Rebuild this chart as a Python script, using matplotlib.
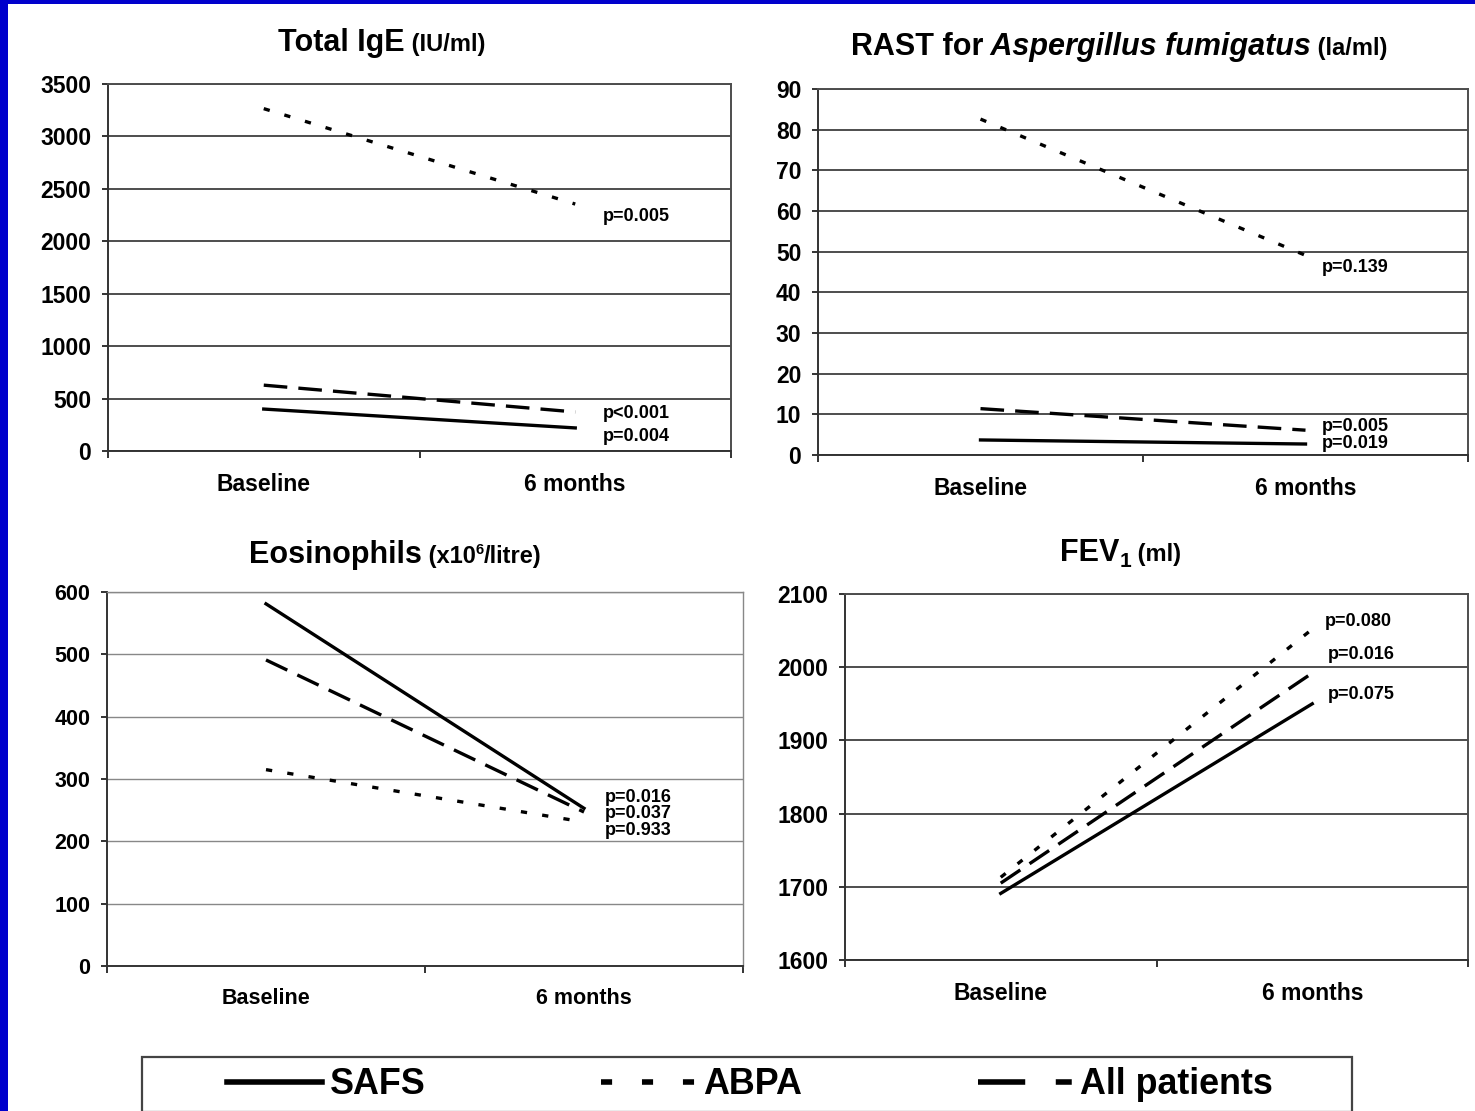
import numpy as np
import matplotlib
matplotlib.use('Agg')
import matplotlib.pyplot as plt
from matplotlib.lines import Line2D
from matplotlib.patches import Rectangle

plt.rcParams['font.family'] = ['Liberation Sans', 'DejaVu Sans']
plt.rcParams['lines.scale_dashes'] = False

# ---- data ----
categories = ['Baseline', '6 months']

ige_safs = [400, 220]
ige_abpa = [3265, 2355]
ige_all = [628, 372]
ige_p = ['p=0.005', 'p<0.001', 'p=0.004']

rast_safs = [3.7, 2.7]
rast_abpa = [82.6, 49.1]
rast_all = [11.4, 6.1]
rast_p = ['p=0.139', 'p=0.005', 'p=0.019']

eos_safs = [581, 253]
eos_abpa = [315, 231]
eos_all = [491, 247]
eos_p = ['p=0.016', 'p=0.037', 'p=0.933']

fev_safs = [1691, 1950]
fev_abpa = [1713, 2052]
fev_all = [1705, 1992]
fev_p = ['p=0.080', 'p=0.016', 'p=0.075']

# ---- figure ----
W, H = 1475, 1111
fig = plt.figure(figsize=(W / 100, H / 100), dpi=100)
fig.patch.set_facecolor('white')

# blue slide border
fig.add_artist(Rectangle((0, 0), 8 / W, 1, transform=fig.transFigure, color='#0000cc', lw=0))
fig.add_artist(Rectangle((0, 1 - 4 / H), 1, 4 / H, transform=fig.transFigure, color='#0000cc', lw=0))

DOT = (0, (4.5, 11))
DASH = (0, (17, 8))
LW = 2.4


def px_axes(l, r, t, b):
    return fig.add_axes([l / W, 1 - b / H, (r - l) / W, (b - t) / H])


def setup(ax, ylim, step, tick_fs, cat_fs, grid_lw, grid_color):
    ax.set_xlim(0, 2)
    ax.set_ylim(*ylim)
    ax.set_yticks(np.arange(ylim[0], ylim[1] + step / 2, step))
    ax.set_xticks([0, 1, 2])
    ax.set_xticklabels([])
    ax.set_xticks([0.5, 1.5], minor=True)
    ax.set_xticklabels(categories, minor=True, fontsize=cat_fs, fontweight='bold')
    ax.tick_params(axis='x', which='minor', length=0, pad=16)
    ax.tick_params(axis='x', which='major', length=5, width=1.4, color='#333333')
    ax.tick_params(axis='y', length=4, width=1.4, color='#333333', pad=8, labelsize=tick_fs)
    for lab in ax.get_yticklabels():
        lab.set_fontweight('bold')
    ax.yaxis.grid(True, color=grid_color, lw=grid_lw)
    ax.set_axisbelow(True)
    for side in ['top', 'right']:
        ax.spines[side].set_color(grid_color)
        ax.spines[side].set_linewidth(grid_lw)
    for side in ['left', 'bottom']:
        ax.spines[side].set_color('#333333')
        ax.spines[side].set_linewidth(1.4)


def draw_series(ax, safs, abpa, allp):
    x = [0.5, 1.5]
    ax.plot(x, abpa, color='black', lw=LW, linestyle=DOT)
    ax.plot(x, allp, color='black', lw=LW, linestyle=DASH)
    ax.plot(x, safs, color='black', lw=LW, linestyle='-')


def p_labels(ax, xs, ys, labels, fs=13):
    for xx, yy, s in zip(xs, ys, labels):
        ax.text(xx, yy, s, fontsize=fs, fontweight='bold', va='center', ha='left')


# Total IgE
ax1 = px_axes(108, 731, 84, 451)
setup(ax1, (0, 3500), 500, 16.5, 16.5, 1.4, '#4d4d4d')
draw_series(ax1, ige_safs, ige_abpa, ige_all)
p_labels(ax1, [1.589] * 3, [2232, 353, 134], ige_p)

# RAST
ax2 = px_axes(818, 1468, 89, 455)
setup(ax2, (0, 90), 10, 16.5, 16.5, 1.4, '#4d4d4d')
draw_series(ax2, rast_safs, rast_abpa, rast_all)
p_labels(ax2, [1.551] * 3, [46, 7.1, 2.95], rast_p)

# Eosinophils
ax3 = px_axes(107, 743, 592, 966)
setup(ax3, (0, 600), 100, 15.5, 15.5, 1.0, '#888888')
draw_series(ax3, eos_safs, eos_abpa, eos_all)
p_labels(ax3, [1.566] * 3, [271, 244, 217], eos_p)

# FEV1
ax4 = px_axes(845, 1468, 594, 960)
setup(ax4, (1600, 2100), 100, 16.5, 16.5, 1.4, '#4d4d4d')
draw_series(ax4, fev_safs, fev_abpa, fev_all)
p_labels(ax4, [1.541, 1.551, 1.551], [2063, 2017, 1963], fev_p)

# ---- titles built from pieces of different size/style ----
renderer = fig.canvas.get_renderer()


def rich_title(x0, y0, parts):
    x = x0
    for s, size, style, dy in parts:
        t = fig.text(x / W, 1 - (y0 + dy) / H, s, fontsize=size, fontweight='bold',
                     fontstyle=style, va='baseline', ha='left')
        x = t.get_window_extent(renderer).x1


rich_title(278, 51, [('Total IgE', 22, 'normal', 0), (' (IU/ml)', 17, 'normal', 0)])
rich_title(851, 55, [('RAST for', 22, 'normal', 0), (' Aspergillus fumigatus', 22, 'italic', 0),
                     (' (la/ml)', 17, 'normal', 0)])
rich_title(249, 563, [('Eosinophils', 22, 'normal', 0), (' (x10', 17, 'normal', 0),
                      ('6', 10.5, 'normal', -9), ('/litre)', 17, 'normal', 0)])
rich_title(1060, 561, [('FEV', 22, 'normal', 0), ('1', 15, 'normal', 6), (' (ml)', 17, 'normal', 0)])

# ---- legend ----
fig.add_artist(Rectangle((142 / W, 1 - 1112 / H), (1352 - 142) / W, (1112 - 1057) / H,
                         transform=fig.transFigure, facecolor='none', edgecolor='#444444', lw=1.6))
handles = [
    Line2D([], [], color='black', lw=4.0, linestyle='-'),
    Line2D([], [], color='black', lw=4.0, linestyle=(0, (8, 21.5))),
    Line2D([], [], color='black', lw=4.0, linestyle=(0, (34, 22, 11.5, 22))),
]
fig.legend(handles, ['SAFS', 'ABPA', 'All patients'], loc='center',
           bbox_to_anchor=(750 / W, 1 - 1085 / H), ncol=3, frameon=False,
           prop={'weight': 'bold', 'size': 25.8}, handlelength=2.65, handletextpad=0.2,
           columnspacing=4.9)

fig.savefig('out.png', dpi=100, facecolor='white')
